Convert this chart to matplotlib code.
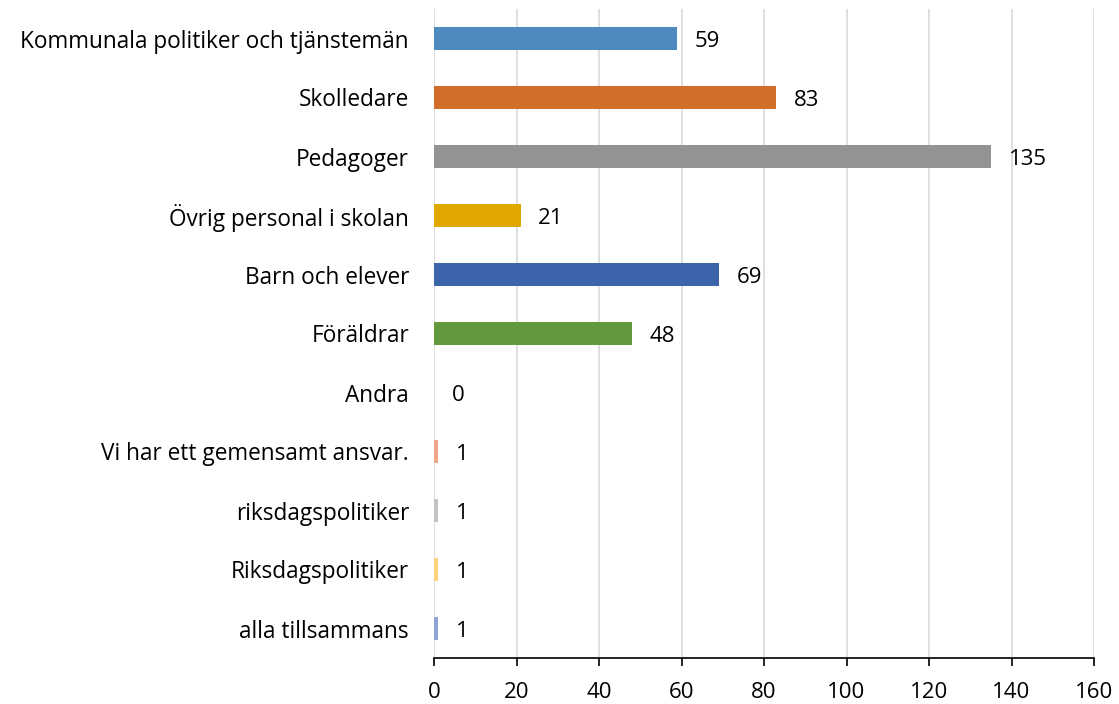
import matplotlib
matplotlib.use("Agg")
import matplotlib.pyplot as plt

categories = ["Kommunala politiker och tjänstemän", "Skolledare", "Pedagoger",
              "Övrig personal i skolan", "Barn och elever", "Föräldrar", "Andra",
              "Vi har ett gemensamt ansvar.", "riksdagspolitiker", "Riksdagspolitiker",
              "alla tillsammans"]
values = [59, 83, 135, 21, 69, 48, 0, 1, 1, 1, 1]
colors = ["#4E8ABE", "#D26D2A", "#939393", "#E0A800", "#3C64AA", "#62993E",
          "#8DB4E2", "#F1A78A", "#C3C3C3", "#FFD27F", "#8FA5D8"]
xticks = [0, 20, 40, 60, 80, 100, 120, 140, 160]

plt.rcParams['font.family'] = ['Open Sans', 'DejaVu Sans']

fig = plt.figure(figsize=(11.19, 7.04), dpi=100)
ax = fig.add_axes([434 / 1119, 1 - 658 / 704, 660 / 1119, 649 / 704])

pos = list(range(len(categories)))[::-1]
ax.barh(pos, values, height=0.4, color=colors, zorder=3)
# value labels, nudged slightly down to sit like the original
for p, v in zip(pos, values):
    ax.text(v + 4.3, p - 0.05, str(v), va="center", ha="left", fontsize=16, color="black")

ax.set_xlim(0, 160)
ax.set_ylim(-0.5, len(categories) - 0.5)
ax.set_yticks(pos)
ax.set_yticklabels(categories, fontsize=16.3)
ax.set_xticks(xticks)
ax.set_xticklabels([str(t) for t in xticks], fontsize=16)
ax.tick_params(axis="y", length=0, pad=18)
ax.tick_params(axis="x", length=6, width=1.2, direction="out", pad=11, color="black")
ax.grid(axis="x", color="#D9D9D9", linewidth=1.2, zorder=0)
for s in ["top", "right", "left"]:
    ax.spines[s].set_visible(False)
ax.spines["bottom"].set_color("black")
ax.spines["bottom"].set_linewidth(1.2)

fig.savefig("out.png", dpi=100)
